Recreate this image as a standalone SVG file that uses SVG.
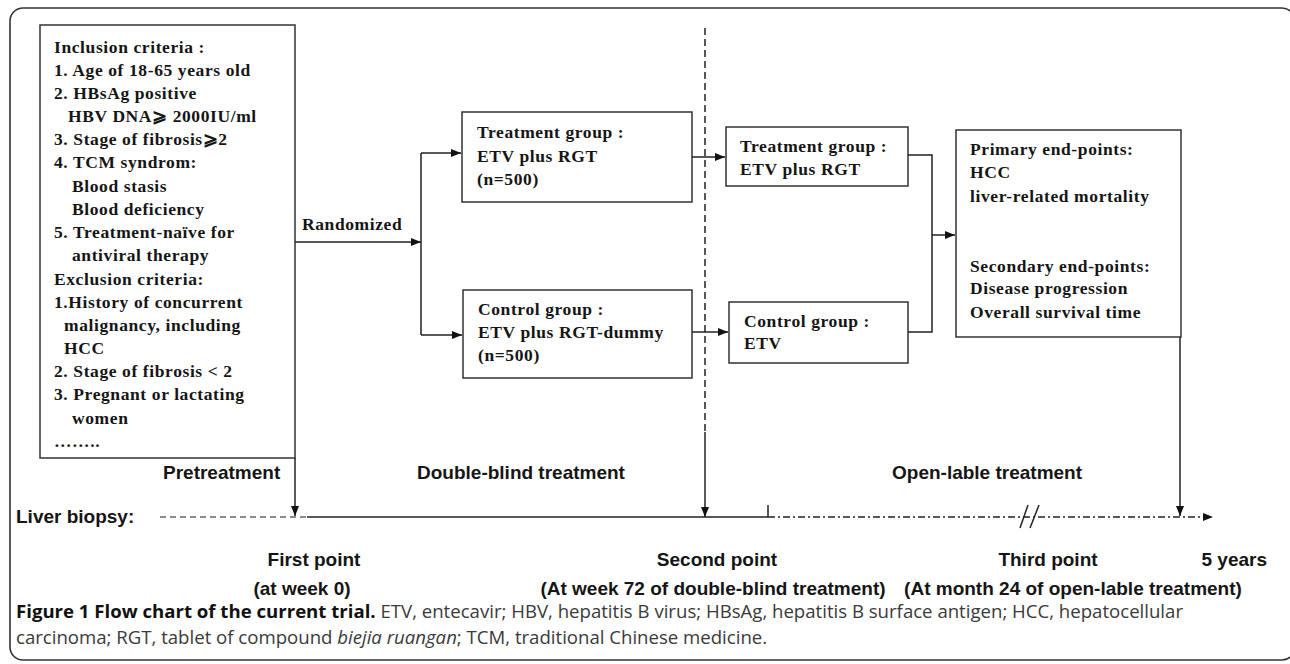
<svg xmlns="http://www.w3.org/2000/svg" width="1290" height="664" viewBox="0 0 1290 664">
<style>
.frame{fill:#fff;stroke:#333;stroke-width:1.6}
.box{fill:#fff;stroke:#333;stroke-width:1.5}
.ln{fill:none;stroke:#222;stroke-width:1.5}
.sr{font-family:"Liberation Serif","Times New Roman",serif;font-weight:bold;font-size:17.5px;fill:#151515;letter-spacing:0.6px}
.ss{font-family:"Liberation Sans",Arial,sans-serif;font-weight:bold;font-size:19px;fill:#151515}
.cap{font-family:"Open Sans","Noto Sans",sans-serif;font-size:18.6px;fill:#3a3a3a}
.capb{font-weight:bold;fill:#111}
</style>
<defs>
<marker id="ah" viewBox="0 0 10 8" refX="10" refY="4" markerWidth="10" markerHeight="8" markerUnits="userSpaceOnUse" orient="auto">
<path d="M0,0 L10,4 L0,8 z" fill="#111"/>
</marker>
</defs>
<rect x="0" y="0" width="1290" height="664" fill="#fff"/>
<rect class="frame" x="10" y="8" width="1285" height="652" rx="13"/>

<g id="inclusion">
<rect class="box" x="40" y="25" width="255" height="433"/>
<text class="sr" x="54" y="53">Inclusion criteria :</text>
<text class="sr" x="54" y="76">1. Age of 18-65 years old</text>
<text class="sr" x="54" y="99">2. HBsAg positive</text>
<text class="sr" x="68" y="122">HBV DNA⩾ 2000IU/ml</text>
<text class="sr" x="54" y="145">3. Stage of fibrosis⩾2</text>
<text class="sr" x="54" y="168">4. TCM syndrom:</text>
<text class="sr" x="72" y="192">Blood stasis</text>
<text class="sr" x="72" y="215">Blood deficiency</text>
<text class="sr" x="54" y="238">5. Treatment-naïve for</text>
<text class="sr" x="72" y="261">antiviral therapy</text>
<text class="sr" x="54" y="285">Exclusion criteria:</text>
<text class="sr" x="54" y="308">1.History of concurrent</text>
<text class="sr" x="64" y="331">malignancy, including</text>
<text class="sr" x="64" y="354">HCC</text>
<text class="sr" x="54" y="377">2. Stage of fibrosis &lt; 2</text>
<text class="sr" x="54" y="400">3. Pregnant or lactating</text>
<text class="sr" x="72" y="424">women</text>
<text class="sr" x="54" y="447">……..</text>
</g>

<g id="treatment1">
<rect class="box" x="462" y="112" width="230" height="90"/>
<text class="sr" x="477" y="138">Treatment group :</text>
<text class="sr" x="477" y="162">ETV plus RGT</text>
<text class="sr" x="477" y="185">(n=500)</text>
</g>

<g id="control1">
<rect class="box" x="463" y="290" width="229" height="88"/>
<text class="sr" x="478" y="315">Control group :</text>
<text class="sr" x="478" y="338">ETV plus RGT-dummy</text>
<text class="sr" x="478" y="361">(n=500)</text>
</g>

<g id="treatment2">
<rect class="box" x="726" y="127" width="182" height="59"/>
<text class="sr" x="740" y="152">Treatment group :</text>
<text class="sr" x="740" y="175">ETV plus RGT</text>
</g>

<g id="control2">
<rect class="box" x="729" y="302" width="179" height="61"/>
<text class="sr" x="744" y="327">Control group :</text>
<text class="sr" x="744" y="349">ETV</text>
</g>

<g id="endpoints">
<rect class="box" x="956" y="130" width="225" height="207"/>
<text class="sr" x="970" y="155">Primary end-points:</text>
<text class="sr" x="970" y="178">HCC</text>
<text class="sr" x="970" y="202">liver-related  mortality</text>
<text class="sr" x="970" y="272">Secondary end-points:</text>
<text class="sr" x="970" y="294">Disease progression</text>
<text class="sr" x="970" y="318">Overall survival  time</text>
</g>

<g id="labels">
<text class="sr" x="302" y="230">Randomized</text>
<text class="ss" x="163" y="479">Pretreatment</text>
<text class="ss" x="417" y="479">Double-blind treatment</text>
<text class="ss" x="892" y="479">Open-lable treatment</text>
<text class="ss" x="16" y="523">Liver biopsy:</text>
<text class="ss" x="314" y="566" text-anchor="middle">First point</text>
<text class="ss" x="302" y="595" text-anchor="middle">(at week 0)</text>
<text class="ss" x="717" y="566" text-anchor="middle">Second point</text>
<text class="ss" x="713" y="595" text-anchor="middle">(At week 72 of double-blind treatment)</text>
<text class="ss" x="1048" y="566" text-anchor="middle">Third point</text>
<text class="ss" x="1073" y="595" text-anchor="middle">(At month 24 of open-lable treatment)</text>
<text class="ss" x="1267" y="566" text-anchor="end">5 years</text>
</g>

<g id="connectors">
<line class="ln" x1="295" y1="242" x2="421" y2="242" marker-end="url(#ah)"/>
<line class="ln" x1="421" y1="153" x2="421" y2="335"/>
<line class="ln" x1="421" y1="153" x2="461" y2="153" marker-end="url(#ah)"/>
<line class="ln" x1="421" y1="335" x2="462" y2="335" marker-end="url(#ah)"/>
<line class="ln" x1="692" y1="157" x2="725" y2="157" marker-end="url(#ah)"/>
<line class="ln" x1="692" y1="332" x2="728" y2="332" marker-end="url(#ah)"/>
<polyline class="ln" points="908,155 932,155 932,332 908,332"/>
<line class="ln" x1="932" y1="235" x2="955" y2="235" marker-end="url(#ah)"/>
<line class="ln" x1="705" y1="28" x2="705" y2="432" stroke-dasharray="7 4"/>
<line class="ln" x1="705" y1="432" x2="705" y2="517" marker-end="url(#ah)"/>
<line class="ln" x1="295" y1="458" x2="295" y2="516" marker-end="url(#ah)"/>
<line class="ln" x1="1180" y1="337" x2="1180" y2="516" marker-end="url(#ah)"/>
<line x1="160" y1="517" x2="307" y2="517" stroke="#666" stroke-width="1.5" stroke-dasharray="6 4"/>
<line class="ln" x1="307" y1="517" x2="768" y2="517"/>
<line class="ln" x1="768" y1="505" x2="768" y2="517"/>
<line class="ln" x1="768" y1="517" x2="1213" y2="517" stroke-dasharray="7 3 2 3" marker-end="url(#ah)"/>
<line class="ln" x1="1020" y1="528" x2="1028" y2="505" stroke-width="2"/>
<line class="ln" x1="1030" y1="528" x2="1039" y2="505" stroke-width="2"/>
</g>

<g id="caption">
<text class="cap" x="16" y="618"><tspan class="capb">Figure 1 Flow chart of the current trial.</tspan> ETV, entecavir; HBV, hepatitis B virus; HBsAg, hepatitis B surface antigen; HCC, hepatocellular</text>
<text class="cap" x="16" y="644">carcinoma; RGT, tablet of compound <tspan font-style="italic">biejia ruangan</tspan>; TCM, traditional Chinese medicine.</text>
</g>
</svg>
